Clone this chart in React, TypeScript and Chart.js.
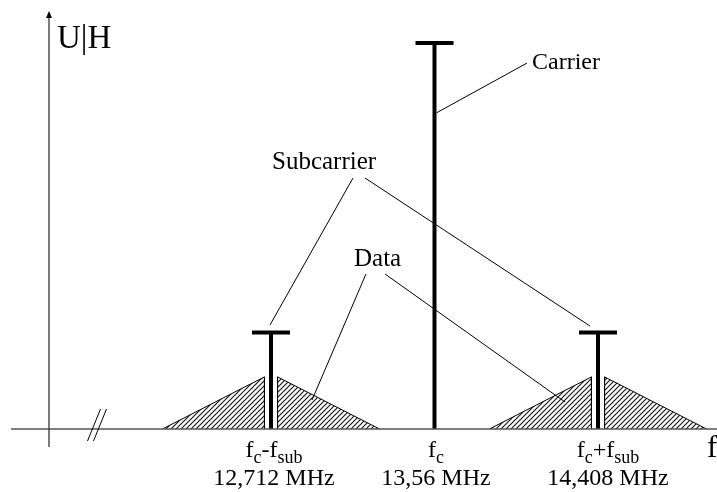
import React, { useEffect, useRef } from "react";
import { Chart, registerables } from "chart.js";

Chart.register(...registerables);

// ---- data ----
const lineFreqs = [12.712, 13.56, 14.408]; // MHz: lower subcarrier, carrier, upper subcarrier
const lineAmplitudes = [0.25, 1.0, 0.25];
const sidebandCenters = [12.712, 14.408];
const sidebandPeak = 0.135;
const sidebandInner = 0.034; // MHz from subcarrier
const sidebandOuter = 0.563; // MHz from subcarrier

const tickFreqs = [12.712, 13.56, 14.408];
const tickSymbols: [string, boolean][][] = [
  [["f", false], ["c", true], ["-f", false], ["sub", true]],
  [["f", false], ["c", true]],
  [["f", false], ["c", true], ["+f", false], ["sub", true]],
];
const tickValues = ["12,712 MHz", "13,56 MHz", "14,408 MHz"];
const tickShiftPx = [3, 1.5, 10];

const yTitle = "U|H";
const xTitle = "f";

const labelTexts = ["Carrier", "Subcarrier", "Data"];
const labelX = [14.0657, 12.7172, 13.1425];
const labelY = [0.9326, 0.6736, 0.4223];
const labelSizes = [24, 25, 25];

// leader lines: [x1, y1, x2, y2]
const leaderLines = [
  [14.0397, 0.948, 13.57, 0.819],
  [13.1373, 0.6503, 12.7068, 0.2694],
  [13.1995, 0.6503, 14.3665, 0.2668],
  [13.2047, 0.4016, 12.9247, 0.0751],
  [13.3033, 0.4016, 14.2368, 0.0699],
];

const xMin = 11.3635;
const xMax = 15.0252;
const yMin = -0.0466;
const yMax = 1.0803;
const yAxisAtFreq = 11.5606;
const breakAtFreq = 11.8096;

const FONT = '"Liberation Serif", "Times New Roman", serif';

function makeHatch(ctx: CanvasRenderingContext2D) {
  const s = 5;
  const c = document.createElement("canvas");
  c.width = s;
  c.height = s;
  const g = c.getContext("2d")!;
  g.strokeStyle = "#1a1a1a";
  g.lineWidth = 1.2;
  g.beginPath();
  g.moveTo(-1, s + 1);
  g.lineTo(s + 1, -1);
  g.moveTo(-1, 1);
  g.lineTo(1, -1);
  g.moveTo(s - 1, s + 1);
  g.lineTo(s + 1, s - 1);
  g.stroke();
  return ctx.createPattern(c, "repeat")!;
}

const decorPlugin = {
  id: "decor",
  afterDatasetsDraw(chart: any) {
    const ctx: CanvasRenderingContext2D = chart.ctx;
    const xs = chart.scales.x;
    const ys = chart.scales.y;
    const area = chart.chartArea;
    const axisY = ys.getPixelForValue(0);
    const axisX = xs.getPixelForValue(yAxisAtFreq);
    ctx.save();
    // horizontal axis
    ctx.strokeStyle = "#555";
    ctx.lineWidth = 1.6;
    ctx.beginPath();
    ctx.moveTo(area.left, axisY);
    ctx.lineTo(area.right, axisY);
    ctx.stroke();
    // vertical axis
    ctx.strokeStyle = "#333";
    ctx.lineWidth = 1.3;
    ctx.beginPath();
    ctx.moveTo(axisX, area.top + 4);
    ctx.lineTo(axisX, area.bottom);
    ctx.stroke();
    // arrow head
    ctx.fillStyle = "#000";
    ctx.beginPath();
    ctx.moveTo(axisX, area.top - 1);
    ctx.lineTo(axisX - 3, area.top + 6);
    ctx.lineTo(axisX + 3, area.top + 6);
    ctx.closePath();
    ctx.fill();
    // axis break marks
    const bx = xs.getPixelForValue(breakAtFreq);
    ctx.strokeStyle = "#000";
    ctx.lineWidth = 1;
    [-3, 3].forEach((d) => {
      ctx.beginPath();
      ctx.moveTo(bx + d - 6.5, axisY + 12);
      ctx.lineTo(bx + d + 6.5, axisY - 20);
      ctx.stroke();
    });

    // titles
    ctx.fillStyle = "#000";
    ctx.textBaseline = "alphabetic";
    ctx.textAlign = "left";
    ctx.font = `33px ${FONT}`;
    ctx.fillText(yTitle, axisX + 8, area.top + 36);
    ctx.font = `31px ${FONT}`;
    ctx.fillText(xTitle, area.right - 10, axisY + 28);

    // annotation labels
    labelTexts.forEach((t, i) => {
      ctx.font = `${labelSizes[i]}px ${FONT}`;
      ctx.fillText(t, xs.getPixelForValue(labelX[i]), ys.getPixelForValue(labelY[i]));
    });

    // tick labels
    tickFreqs.forEach((f, i) => {
      const cx = xs.getPixelForValue(f) + tickShiftPx[i];
      const parts = tickSymbols[i];
      let w = 0;
      parts.forEach(([t, sub]) => {
        ctx.font = `${sub ? 18 : 24}px ${FONT}`;
        w += ctx.measureText(t).width;
      });
      let x = cx - w / 2;
      parts.forEach(([t, sub]) => {
        ctx.font = `${sub ? 18 : 24}px ${FONT}`;
        ctx.fillText(t, x, axisY + 28 + (sub ? 6 : 0));
        x += ctx.measureText(t).width;
      });
      ctx.font = `24px ${FONT}`;
      ctx.textAlign = "center";
      ctx.fillText(tickValues[i], cx, axisY + 56);
      ctx.textAlign = "left";
    });
    ctx.restore();
  },
};

export default function App() {
  const ref = useRef<HTMLCanvasElement>(null);
  useEffect(() => {
    const canvas = ref.current!;
    const ctx = canvas.getContext("2d")!;
    const hatch = makeHatch(ctx);
    const datasets: any[] = [];

    sidebandCenters.forEach((c) => {
      [-1, 1].forEach((side) => {
        datasets.push({
          data: [
            { x: c + side * sidebandOuter, y: 0 },
            { x: c + side * sidebandInner, y: sidebandPeak },
            { x: c + side * sidebandInner, y: 0 },
          ],
          borderColor: "#000",
          borderWidth: 1,
          backgroundColor: hatch,
          fill: "origin",
          pointRadius: 0,
          tension: 0,
        });
      });
    });

    lineFreqs.forEach((f, i) => {
      datasets.push({
        data: [
          { x: f, y: 0 },
          { x: f, y: lineAmplitudes[i] },
        ],
        borderColor: "#000",
        borderWidth: 4,
        borderCapStyle: "butt",
        fill: false,
        pointStyle: "line",
        pointRadius: [0, 19],
        pointBorderWidth: 4,
        pointBorderColor: "#000",
        pointBackgroundColor: "#000",
        tension: 0,
      });
    });

    leaderLines.forEach(([x1, y1, x2, y2]) => {
      datasets.push({
        data: [
          { x: x1, y: y1 },
          { x: x2, y: y2 },
        ],
        borderColor: "#000",
        borderWidth: 1,
        fill: false,
        pointRadius: 0,
        tension: 0,
      });
    });

    const chart = new Chart(ctx, {
      type: "line",
      data: { datasets },
      options: {
        responsive: false,
        animation: false,
        events: [],
        layout: { autoPadding: false, padding: { left: 11, right: 0, top: 12, bottom: 45 } },
        scales: {
          x: { type: "linear", min: xMin, max: xMax, display: false },
          y: { type: "linear", min: yMin, max: yMax, display: false },
        },
        plugins: { legend: { display: false }, tooltip: { enabled: false } },
      },
      plugins: [decorPlugin],
    });
    return () => chart.destroy();
  }, []);

  return (
    <div style={{ position: "fixed", left: 0, top: 0, width: 717, height: 492, background: "#fff" }}>
      <canvas ref={ref} width={717} height={492} style={{ display: "block" }} />
    </div>
  );
}
